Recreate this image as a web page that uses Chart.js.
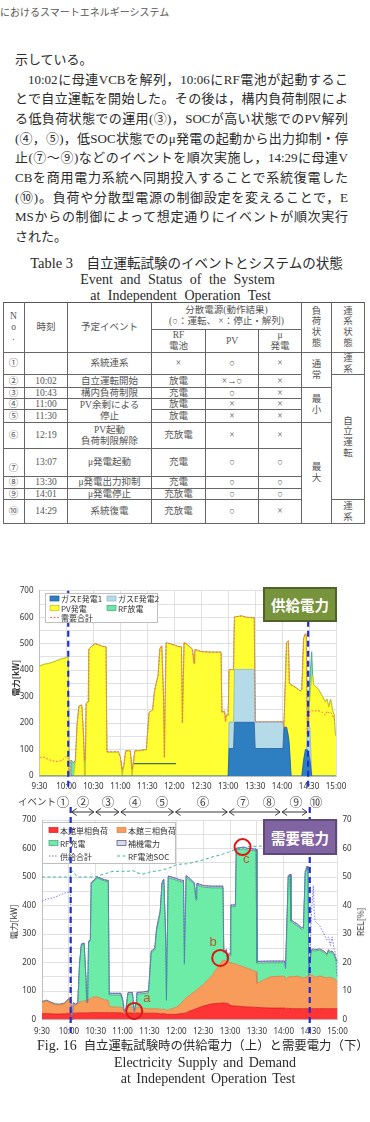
<!DOCTYPE html>
<html><head><meta charset="utf-8">
<script src="https://cdn.jsdelivr.net/npm/chart.js@4.4.1/dist/chart.umd.min.js"></script>
<style>
html,body{margin:0;padding:0;background:#fff;}
body{width:370px;height:1122px;position:relative;overflow:hidden;font-family:"Liberation Serif","Noto Sans CJK JP",serif;color:#2a2a2a;}
.abs{position:absolute;white-space:nowrap;}
.ln{position:absolute;height:20px;line-height:20px;font-size:13px;white-space:nowrap;text-align:justify;text-align-last:justify;}
.ln.l{text-align:left;text-align-last:left;}
.cell{position:absolute;box-sizing:border-box;border-right:1px solid #666;border-bottom:1px solid #666;display:flex;align-items:center;justify-content:center;text-align:center;font-size:9.5px;line-height:1.12;color:#555;font-family:"Liberation Serif","Noto Sans CJK JP",serif;}
.vt{position:absolute;transform:translate(-50%,-50%) rotate(-90deg);white-space:nowrap;font-family:"Noto Sans CJK JP",sans-serif;font-size:8.5px;color:#333;}
.ev{position:absolute;transform:translate(-50%,-50%);font-family:"Noto Sans CJK JP",sans-serif;font-size:12.5px;color:#444;}
.tag{position:absolute;box-sizing:border-box;display:flex;align-items:center;justify-content:center;color:#fff;font-family:"Noto Sans CJK JP",sans-serif;font-weight:bold;font-size:14.5px;z-index:5;}
canvas{position:absolute;left:0;}
</style>
</head><body>

<div class="abs" style="left:0;top:4px;font-size:10px;color:#555;font-family:'Noto Sans CJK JP';">におけるスマートエネルギーシステム</div>

<div class="ln l" style="left:15px;top:50px;width:333px;">示している。</div>
<div class="ln" style="left:28px;top:69.7px;width:320px;">10:02に母連VCBを解列，10:06にRF電池が起動するこ</div>
<div class="ln" style="left:15px;top:89.3px;width:333px;">とで自立運転を開始した。その後は，構内負荷制限によ</div>
<div class="ln" style="left:15px;top:109px;width:333px;">る低負荷状態での運用(③)，SOCが高い状態でのPV解列</div>
<div class="ln" style="left:15px;top:128.7px;width:333px;">(④，⑤)，低SOC状態でのμ発電の起動から出力抑制・停</div>
<div class="ln" style="left:15px;top:148.3px;width:333px;">止(⑦〜⑨)などのイベントを順次実施し，14:29に母連V</div>
<div class="ln" style="left:15px;top:168px;width:333px;">CBを商用電力系統へ同期投入することで系統復電した</div>
<div class="ln" style="left:15px;top:187.7px;width:333px;">(⑩)。負荷や分散型電源の制御設定を変えることで，E</div>
<div class="ln" style="left:15px;top:207.3px;width:333px;">MSからの制御によって想定通りにイベントが順次実行</div>
<div class="ln l" style="left:15px;top:227px;width:333px;">された。</div>

<div class="abs" style="left:0;width:373px;top:254px;line-height:18px;text-align:center;font-size:13.5px;"><span style="font-family:'Liberation Serif';font-size:14.5px;">Table 3</span>　自立運転試験のイベントとシステムの状態</div>
<div class="abs" style="left:0;width:355px;top:271px;line-height:18px;text-align:center;font-family:'Liberation Serif';font-size:14px;word-spacing:4px;">Event and Status of the System</div>
<div class="abs" style="left:0;width:361px;top:287px;line-height:18px;text-align:center;font-family:'Liberation Serif';font-size:14px;word-spacing:4px;">at Independent Operation Test</div>
<div id="tbl"></div>

<canvas id="c1" width="370" height="215" style="top:580px;"></canvas>
<canvas id="c2" width="370" height="247" style="top:795px;"></canvas>

<div class="vt" style="left:15px;top:678px;font-weight:bold;">電力[kW]</div>
<div class="vt" style="left:13px;top:922px;">電力[kW]</div>
<div class="vt" style="left:360px;top:922px;">REL[%]</div>

<div class="tag" style="left:263px;top:587px;width:74px;height:35px;background:#77933c;border:2px solid #4f6228;">供給電力</div>
<div class="tag" style="left:263px;top:819px;width:74px;height:36px;background:#8064a2;border:2px solid #5f497a;">需要電力</div>

<div class="abs" style="left:18px;top:794px;font-size:9.5px;line-height:14px;color:#444;font-family:'Noto Sans CJK JP';">イベント</div>
<div id="evs"></div>

<div class="abs" style="left:37px;top:1036px;line-height:18px;"><span style="font-family:'Liberation Serif';font-size:14px;">Fig. 16</span><span style="font-size:12.4px;margin-left:7px;font-family:'Noto Sans CJK JP';">自立運転試験時の供給電力（上）と需要電力（下）</span></div>
<div class="abs" style="left:0;width:410px;top:1054px;line-height:18px;text-align:center;font-family:'Liberation Serif';font-size:14px;word-spacing:2px;">Electricity Supply and Demand</div>
<div class="abs" style="left:0;width:416px;top:1070px;line-height:18px;text-align:center;font-family:'Liberation Serif';font-size:14px;word-spacing:2px;">at Independent Operation Test</div>

<script>
// ---------------- data ----------------
const times = [
"9:30","9:35","9:40","9:45","9:50","9:55","10:00","10:02","10:03","10:04",
"10:05","10:07","10:08","10:10","10:12","10:14","10:17","10:19","10:20","10:21",
"10:22","10:24","10:25","10:28","10:32","10:36","10:40","10:44","10:45","10:50",
"10:58","11:00","11:02","11:04","11:06","11:11","11:13","11:15","11:16","11:22",
"11:29","11:32","11:36","11:38","11:42","11:44","11:46","11:48","11:49","11:50",
"11:51","11:55","12:00","12:04","12:08","12:09","12:11","12:15","12:20","12:22",
"12:23","12:30","12:40","12:52","12:53","12:56","12:57","12:58","13:00","13:01",
"13:06","13:07","13:15","13:20","13:29","13:30","13:45","14:01","14:02","14:03",
"14:05","14:07","14:08","14:10","14:15","14:20","14:22","14:24","14:26","14:27",
"14:28","14:29","14:31","14:33","14:34","14:35","14:40","14:45","14:48","14:50",
"14:52","14:54","14:56","14:58","14:59","15:00"];
const xTickLabels = ["9:30","10:00","10:30","11:00","11:30","12:00","12:30","13:00","13:30","14:00","14:30","15:00"];

// supply (top)
const gasE1 = [
0,0,0,0,0,0,0,0,0,0, 0,0,0,0,0,0,0,0,0,0, 0,0,0,0,0,0,0,0,0,0, 0,0,0,0,0,0,0,0,0,0,
0,0,0,0,0,0,0,0,0,0, 0,0,0,0,0,0,0,0,0,0, 0,0,0,0,0,0,0,0,0,104,
104,203,203,203,203,104,104,104,184,184, 184,150,120,0,0,0,0,60,100,100,
100,90,60,0,0,0,0,0,0,0, 0,0,0,0,0,0];
const gasE2 = [
0,0,0,0,0,0,0,0,0,0, 0,0,0,0,0,0,0,0,0,0, 0,0,0,0,0,0,0,0,0,0, 0,0,0,0,0,0,0,0,0,0,
0,0,0,0,0,0,0,0,0,0, 0,0,0,0,0,0,0,0,0,0, 0,0,0,0,0,0,0,0,0,100,
100,200,200,200,200,100,100,100,0,0, 0,0,0,0,0,0,0,0,0,0,
57,110,120,0,0,0,0,0,0,0, 0,0,0,0,0,0];
const pvGen = [
415,422,425,430,437,443,447,448,0,0, 0,0,0,60,200,265,268,150,0,0,
275,280,480,490,500,495,490,488,90,90, 90,70,0,40,95,95,0,60,95,96,
100,240,250,320,380,480,492,300,70,300, 503,500,495,490,488,200,505,495,480,425,
478,470,468,468,240,245,205,230,230,198, 198,198,202,197,195,0,0,0,0,100,
320,360,230,345,335,322,325,460,438,430, 0,0,120,380,380,345,330,300,280,290,
260,290,250,230,160,150];
const rfDischarge = [
0,0,0,0,0,0,0,0,0,0, 60,55,50,0,0,0,0,0,60,60, 0,0,0,0,0,0,0,0,0,0,
0,0,25,0,0,0,25,0,0,0, 0,0,0,0,0,0,0,0,0,0, 0,0,0,0,0,0,0,0,0,0,
0,0,0,0,0,0,0,0,0,0, 0,0,0,0,0,0,0,0,0,0, 0,0,0,0,0,0,0,0,0,0,
0,0,80,90,0,0,0,0,0,0, 0,0,0,0,0,0];
const demandTotal = [
70,72,62,57,55,58,75,65,0,0, 60,55,50,60,200,265,268,150,60,60,
275,280,480,490,500,495,490,488,92,92, 92,72,25,42,95,95,25,60,95,96,
100,240,250,320,380,480,492,300,70,300, 503,500,495,490,488,200,505,495,480,425,
478,470,468,468,240,245,205,230,230,402, 402,601,605,600,598,204,205,205,184,284,
504,510,350,345,335,322,325,520,538,530, 157,200,245,248,246,245,248,240,230,245,
238,240,232,215,210,205];
const stubLineT = ["11:15","12:02"];
const stubLineV = [47,47];

// demand (bottom)
const load1ph = [
20,21,20,19,19,20,21,21,0,0, 22,22,22,23,23,23,23,23,23,23,
23,24,24,24,24,24,24,24,24,24, 23,23,18,23,23,23,20,23,23,22,
22,22,22,22,20,20,20,20,18,18, 18,18,18,20,22,22,23,30,35,38,
39,47,55,58,58,57,57,56,50,48, 47,47,45,44,43,42,40,40,39,39,
39,39,38,38,38,38,38,38,38,38, 38,38,38,38,38,38,38,38,38,38,
38,38,38,38,38,38];
const load3ph = [
40,44,38,33,32,35,50,42,0,0, 33,30,28,35,38,40,42,43,35,35,
48,50,52,55,55,50,45,43,22,20, 20,20,5,17,20,20,3,18,20,18,
16,16,16,16,16,16,16,15,14,15, 16,20,25,32,45,48,53,55,62,64,
66,75,100,150,150,148,143,145,150,150, 148,146,140,135,125,85,110,112,100,105,
110,112,112,112,114,110,108,110,112,115, 115,118,118,115,112,110,115,110,108,110,
110,108,105,100,98,96];
const rfCharge = [
0,0,0,0,0,0,0,0,0,0, 0,0,0,0,135,198,199,80,0,0,
200,202,400,407,417,417,417,417,40,42, 43,23,0,0,46,46,0,15,46,50,
56,196,206,276,338,438,450,259,35,261, 463,456,446,432,415,124,423,404,377,317,
367,342,307,254,26,34,0,23,24,198, 201,402,414,415,424,71,49,47,39,134,
349,353,194,189,177,168,173,366,382,371, 0,40,84,90,91,92,90,87,79,92,
85,89,84,72,69,66];
const auxPower = [
3,3,3,3,3,3,3,3,0,0, 4,3,2,4,4,4,4,4,2,2,
4,4,4,4,4,4,4,4,6,6, 6,6,2,2,6,6,2,4,6,6,
6,6,6,6,6,6,6,6,3,6, 6,6,6,6,6,6,6,6,6,6,
6,6,6,6,6,6,5,6,6,6, 6,6,6,6,6,6,6,6,6,6,
6,6,6,6,6,6,6,6,6,6, 4,4,5,5,5,5,5,5,5,5,
5,5,5,5,5,5];
const supplyTotal = [
415,422,425,430,437,443,447,448,0,0, 60,55,52,62,200,265,268,150,60,60,
275,280,480,490,500,495,490,488,92,92, 92,72,25,42,95,95,25,60,95,96,
100,240,250,320,380,480,492,300,70,300, 503,500,495,490,488,200,505,495,480,425,
478,470,468,468,240,245,205,230,230,402, 402,601,605,600,598,204,205,205,184,284,
504,510,350,345,335,322,325,520,538,530, 157,200,380,470,380,345,330,300,280,290,
260,290,250,230,160,150];
const rfSoc = [
50,50,50,50,50,50,50,50,52,52, 51.5,51,50.5,50,50,50,50,50,50,50,
50,50,50,50,50.2,50.8,51,51.5,51.7,52, 52,52,52,52,52,52.3,52,52,51.5,51,
51.5,52,52,52,52.3,52.5,52.7,52.8,52.8,53, 53,53.5,54.3,54.5,54.6,54.6,54.6,54.8,55.2,55.4,
55.5,56,57,58,58.2,58.4,58.5,58.6,59,59.2, 59.6,59.8,60.3,60.6,60.8,60.8,61,61.2,61.2,61.3,
61.3,61.4,61.4,61.4,61.5,61.5,61.5,61.5,61.5,61.5, 61.5,null,null,null,null,null,null,null,null,null,
null,null,null,null,null,null];

// events / annotations
const eventLineTimes = ["10:02","14:29"];
const eventBounds = ["10:02","10:29","10:57","11:58","12:58","13:57","14:27"];
const eventNames = ["①","②","③","④","⑤","⑥","⑦","⑧","⑨","⑩"];
const eventLabelX = [63,83,108,135,162,203,243,269,296,316];
const markT = ["11:13","12:49","13:14"];
const markV = [30,216,605];
const markLabel = ["a","b","c"];
const markLabelT = ["11:27","12:41","13:18"];
const markLabelV = [75,272,560];

// ---------------- table ----------------
const colX = [3,25,68,152,206,259,302,332,365];
const rowY = [302,330,353,375,388,399,410,423,449,477,489,500,524];
const cells = [
[0,1,0,2,"N<br>o<br>."],[1,2,0,2,"時刻"],[2,3,0,2,"予定イベント"],
[3,6,0,1,"分散電源(動作結果)<br>(○：運転、 ×：停止・解列)"],
[3,4,1,2,"RF<br>電池"],[4,5,1,2,"PV"],[5,6,1,2,"μ<br>発電"],
[6,7,0,2,"負<br>荷<br>状<br>態"],[7,8,0,2,"連<br>系<br>状<br>態"],
[0,1,2,3,"①"],[1,2,2,3,""],[2,3,2,3,"系統連系"],[3,4,2,3,"×"],[4,5,2,3,"○"],[5,6,2,3,"×"],
[0,1,3,4,"②"],[1,2,3,4,"10:02"],[2,3,3,4,"自立運転開始"],[3,4,3,4,"放電"],[4,5,3,4,"×→○"],[5,6,3,4,"×"],
[0,1,4,5,"③"],[1,2,4,5,"10:43"],[2,3,4,5,"構内負荷制限"],[3,4,4,5,"充電"],[4,5,4,5,"○"],[5,6,4,5,"×"],
[0,1,5,6,"④"],[1,2,5,6,"11:00"],[2,3,5,7,"PV余剰による<br>停止"],[3,4,5,6,"放電"],[4,5,5,6,"×"],[5,6,5,6,"×"],
[0,1,6,7,"⑤"],[1,2,6,7,"11:30"],[3,4,6,7,"放電"],[4,5,6,7,"×"],[5,6,6,7,"×"],
[0,1,7,8,"⑥"],[1,2,7,8,"12:19"],[2,3,7,8,"PV起動<br>負荷制限解除"],[3,4,7,8,"充放電"],[4,5,7,8,"×"],[5,6,7,8,"×"],
[0,1,8,9,"⑦","align-items:flex-end;padding-bottom:2px;"],[1,2,8,9,"13:07"],[2,3,8,9,"μ発電起動"],[3,4,8,9,"充電"],[4,5,8,9,"○"],[5,6,8,9,"○"],
[0,1,9,10,"⑧"],[1,2,9,10,"13:30"],[2,3,9,10,"μ発電出力抑制"],[3,4,9,10,"充電"],[4,5,9,10,"○"],[5,6,9,10,"○"],
[0,1,10,11,"⑨"],[1,2,10,11,"14:01"],[2,3,10,11,"μ発電停止"],[3,4,10,11,"充放電"],[4,5,10,11,"○"],[5,6,10,11,"○"],
[0,1,11,12,"⑩"],[1,2,11,12,"14:29"],[2,3,11,12,"系統復電"],[3,4,11,12,"充放電"],[4,5,11,12,"○"],[5,6,11,12,"×"],
[6,7,2,4,"通<br>常"],[6,7,4,7,"最<br>小"],[6,7,7,12,"最<br>大"],
[7,8,2,3,"連<br>系"],[7,8,3,11,"自<br>立<br>運<br>転"],[7,8,11,12,"連<br>系"]
];
let th = '<div style="position:absolute;left:'+colX[0]+'px;top:'+rowY[0]+'px;width:'+(colX[8]-colX[0])+'px;height:'+(rowY[12]-rowY[0])+'px;border-top:1.5px solid #555;border-left:1px solid #666;box-sizing:border-box;"></div>';
cells.forEach(c=>{
  th += '<div class="cell" style="left:'+colX[c[0]]+'px;top:'+rowY[c[2]]+'px;width:'+(colX[c[1]]-colX[c[0]])+'px;height:'+(rowY[c[3]]-rowY[c[2]])+'px;'+(c[5]||'')+'">'+c[4]+'</div>';
});
document.getElementById('tbl').innerHTML = th;
let eh='';
eventNames.forEach((n,i)=>{ eh += '<div class="ev" style="left:'+eventLabelX[i]+'px;top:801px;">'+n+'</div>'; });
document.getElementById('evs').innerHTML = eh;

// ---------------- charts ----------------
const toMin = s => { const p = s.split(':'); return (+p[0])*60 + (+p[1]); };
const fmt = v => Math.floor(v/60) + ':' + String(v%60).padStart(2,'0');
const pts = arr => arr.map((v,i)=>({x:toMin(times[i]), y:v}));
const FONT = '"Noto Sans","Noto Sans CJK JP",sans-serif';
Chart.defaults.font.family = FONT;
Chart.defaults.font.size = 8;
Chart.defaults.color = '#333';

function area(label, data, bg, border, idx){
  return {label, data: pts(data), backgroundColor:bg, borderColor:border, borderWidth:0.8,
          fill: idx===0 ? 'origin' : '-1', pointRadius:0, tension:0, stack:'area', order:2};
}
function xScale(h, pad){
  return {type:'linear', min:570, max:900,
    afterBuildTicks: s => { s.ticks = xTickLabels.map(l => ({value: toMin(l)})); },
    ticks:{callback: v => fmt(v), autoSkip:false, maxRotation:0, padding:pad},
    grid:{color:'#d9d9d9', lineWidth:0.8, drawTicks:false},
    border:{color:'#bfbfbf'},
    afterFit: s => { s.height = h; }};
}
function yScale(w){
  return {stacked:true, min:0, max:700,
    ticks:{stepSize:50, callback: v => (v%100===0 ? v : ''), padding:6},
    grid:{color:'#d9d9d9', lineWidth:0.8, drawTicks:false},
    border:{color:'#bfbfbf'},
    afterFit: s => { s.width = w; }};
}
function drawLegend(chart, box, items){
  const ctx = chart.ctx;
  ctx.save();
  ctx.fillStyle = '#fff'; ctx.fillRect(box[0], box[1], box[2], box[3]);
  ctx.strokeStyle = '#bfbfbf'; ctx.lineWidth = 1; ctx.strokeRect(box[0]+0.5, box[1]+0.5, box[2], box[3]);
  ctx.font = '8px "Noto Sans CJK JP"'; ctx.textBaseline = 'middle';
  items.forEach(([di,x,y]) => {
    const ds = chart.data.datasets[di];
    if (ds.fill) {
      ctx.fillStyle = ds.backgroundColor; ctx.fillRect(x, y-2.5, 9, 5);
      ctx.strokeStyle = ds.borderColor; ctx.lineWidth = 0.7; ctx.strokeRect(x, y-2.5, 9, 5);
    } else {
      ctx.strokeStyle = ds.borderColor; ctx.lineWidth = 1; ctx.setLineDash(ds.borderDash || []);
      ctx.beginPath(); ctx.moveTo(x, y); ctx.lineTo(x+9, y); ctx.stroke(); ctx.setLineDash([]);
    }
    ctx.fillStyle = '#333'; ctx.fillText(ds.label, x+11, y+0.5);
  });
  ctx.restore();
}
function drawEventLines(chart, y0, y1){
  const ctx = chart.ctx, xs = chart.scales.x;
  ctx.save(); ctx.strokeStyle = '#1f2fd8'; ctx.lineWidth = 2.2; ctx.setLineDash([6,4]);
  eventLineTimes.forEach(t => { const x = xs.getPixelForValue(toMin(t));
    ctx.beginPath(); ctx.moveTo(x, y0); ctx.lineTo(x, y1); ctx.stroke(); });
  ctx.restore();
}

// top chart
new Chart(document.getElementById('c1'), {
  type:'line',
  data:{datasets:[
    area('ガスE発電1', gasE1, '#2e7fc1', '#1e5f98', 0),
    area('ガスE発電2', gasE2, '#b5dbe8', '#86b4c6', 1),
    area('PV発電', pvGen, '#ffff33', '#c9bd00', 2),
    area('RF放電', rfDischarge, '#6fe6a8', '#3aa872', 3),
    {label:'需要合計', data: pts(demandTotal), borderColor:'#ff6a6a', borderWidth:1, borderDash:[2,1.5], fill:false, pointRadius:0, tension:0, stack:'dem', order:0},
    {label:'', data: stubLineT.map((t,i)=>({x:toMin(t), y:stubLineV[i]})), borderColor:'#3f6f58', borderWidth:1.2, fill:false, pointRadius:0, stack:'stub', order:1}
  ]},
  options:{responsive:false, animation:false, devicePixelRatio:1,
    layout:{padding:{left:0, right:34, top:8.3, bottom:0}},
    plugins:{legend:{display:false}, tooltip:{enabled:false}},
    scales:{x: xScale(19, 6), y: yScale(39.5)}},
  plugins:[{id:'deco1', afterDatasetsDraw(chart){
    drawEventLines(chart, chart.chartArea.top, 209);
    drawLegend(chart, [45,13,112,29], [[0,50,18.5],[1,107,18.5],[2,50,28],[3,107,28],[4,50,37.5]]);
  }}]
});

// bottom chart
new Chart(document.getElementById('c2'), {
  type:'line',
  data:{datasets:[
    area('本館単相負荷', load1ph, '#ff3535', '#d42020', 0),
    area('本館三相負荷', load3ph, '#f79c5a', '#d8804a', 1),
    area('RF充電', rfCharge, '#6cecA6', '#3f9f78', 2),
    area('補機電力', auxPower, '#dadbe6', '#4a4a78', 3),
    {label:'供給合計', data: pts(supplyTotal), borderColor:'#6a6aee', borderWidth:0.9, borderDash:[1.5,1.5], fill:false, pointRadius:0, tension:0, stack:'sup', order:0},
    {label:'RF電池SOC', data: pts(rfSoc), yAxisID:'y2', borderColor:'#3cb39a', borderWidth:1, borderDash:[3,2.5], fill:false, pointRadius:0, tension:0, spanGaps:false, order:0}
  ]},
  options:{responsive:false, animation:false, devicePixelRatio:1,
    layout:{padding:{left:0, right:0, top:25, bottom:0}},
    plugins:{legend:{display:false}, tooltip:{enabled:false}},
    scales:{x: xScale(22.5, 7), y: yScale(42),
      y2:{position:'right', min:0, max:70, ticks:{stepSize:10, padding:5},
          grid:{drawOnChartArea:false, drawTicks:false}, border:{display:false},
          afterFit: s => { s.width = 32.5; }}}},
  plugins:[{id:'deco2', afterDatasetsDraw(chart){
    const ctx = chart.ctx, xs = chart.scales.x, ys = chart.scales.y;
    drawLegend(chart, [42,27,133,41], [[0,49,35],[1,117,35],[2,49,48],[3,117,48],[4,49,61],[5,117,61]]);
    // event arrows
    ctx.save(); ctx.strokeStyle = '#222'; ctx.lineWidth = 0.9;
    const ay = 17;
    for (let i = 0; i < eventBounds.length-1; i++){
      const a = xs.getPixelForValue(toMin(eventBounds[i])) + 1;
      const b = xs.getPixelForValue(toMin(eventBounds[i+1])) - 1;
      ctx.beginPath(); ctx.moveTo(a, ay); ctx.lineTo(b, ay);
      ctx.moveTo(a+5, ay-3.5); ctx.lineTo(a, ay); ctx.lineTo(a+5, ay+3.5);
      ctx.moveTo(b-5, ay-3.5); ctx.lineTo(b, ay); ctx.lineTo(b-5, ay+3.5);
      ctx.stroke();
    }
    ctx.restore();
    // red circles
    ctx.save(); ctx.strokeStyle = '#e01515'; ctx.lineWidth = 2;
    markT.forEach((t,i) => { ctx.beginPath();
      ctx.arc(xs.getPixelForValue(toMin(t)), ys.getPixelForValue(markV[i]), 8, 0, Math.PI*2); ctx.stroke(); });
    ctx.fillStyle = '#b9552a'; ctx.font = '13px "Liberation Sans"'; ctx.textAlign = 'center'; ctx.textBaseline = 'middle';
    markLabel.forEach((l,i) => ctx.fillText(l, xs.getPixelForValue(toMin(markLabelT[i])), ys.getPixelForValue(markLabelV[i])));
    ctx.restore();
    drawEventLines(chart, 12, 239);
  }}]
});
</script>
</body></html>
